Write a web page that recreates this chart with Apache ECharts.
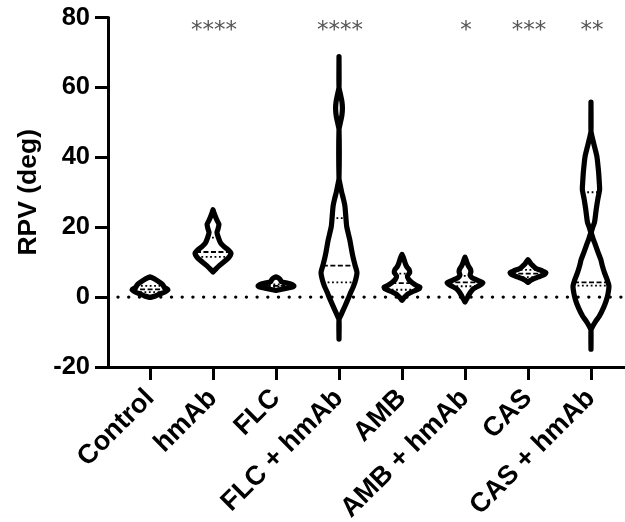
<!DOCTYPE html>
<html>
<head>
<meta charset="utf-8">
<script src="https://cdn.jsdelivr.net/npm/echarts@6/dist/echarts.min.js"></script>
<style>
  html, body { margin: 0; padding: 0; background: #fff; }
  #chart { width: 625px; height: 522px; }
</style>
</head>
<body>
<div id="chart"></div>
<script>
// groups on the x axis
const categories = ["Control", "hmAb", "FLC", "FLC + hmAb", "AMB", "AMB + hmAb", "CAS", "CAS + hmAb"];
const yTicks = [-20, 0, 20, 40, 60, 80];
const sigLabels = ["", "****", "", "****", "", "*", "***", "**"];

// violin outlines: [RPV value, relative density 0..1] (each violin scaled to same max width)
const controlDensity = [[-0.1, 0], [0.3, 0.3], [0.8, 0.5], [1.4, 0.8], [2.1, 1], [2.8, 0.8], [3.6, 0.7], [4.3, 0.52], [4.8, 0.38], [5.3, 0.22], [5.8, 0]];
const hmAbDensity = [[7.2, 0], [8, 0.15], [9, 0.35], [10, 0.58], [11, 0.82], [12, 0.97], [12.6, 1], [13.5, 0.85], [14.5, 0.6], [15.5, 0.42], [17, 0.3], [18.5, 0.22], [19.5, 0.28], [20.8, 0.33], [22, 0.22], [23.2, 0.12], [24.3, 0.04], [25, 0]];
const flcDensity = [[1.9, 0], [2.3, 0.4], [2.8, 0.85], [3.2, 1], [3.7, 0.85], [4.1, 0.55], [4.4, 0.3], [4.9, 0.25], [5.4, 0.15], [5.8, 0]];
const flcHmAbDensity = [[-12, 0], [-6.5, 0], [-5, 0.12], [-2.6, 0.33], [0, 0.55], [1.3, 0.65], [3, 0.8], [5, 0.93], [7, 1], [9, 0.9], [11, 0.8], [13, 0.72], [16.4, 0.6], [20.2, 0.43], [23, 0.38], [26, 0.33], [28, 0.25], [30, 0.15], [32, 0.07], [34, 0], [48, 0], [50, 0.08], [52, 0.16], [54, 0.19], [56, 0.16], [58, 0.08], [60, 0], [68.8, 0]];
const ambDensity = [[-0.9, 0], [0, 0.15], [0.8, 0.3], [1.6, 0.6], [2.4, 0.95], [2.8, 1], [3.3, 0.8], [4.1, 0.57], [5, 0.38], [6, 0.3], [7, 0.43], [7.8, 0.4], [8.6, 0.28], [9.4, 0.2], [10.5, 0.13], [11.4, 0.07], [12.2, 0]];
const ambHmAbDensity = [[-1.4, 0], [-0.5, 0.1], [0.5, 0.2], [1.5, 0.32], [2.5, 0.5], [3.3, 0.8], [4.1, 1], [4.8, 0.7], [5.5, 0.4], [6.3, 0.28], [7.2, 0.33], [8, 0.3], [9, 0.18], [10, 0.1], [10.8, 0.05], [11.4, 0]];
const casDensity = [[4.2, 0], [4.8, 0.15], [5.4, 0.4], [6, 0.7], [6.6, 0.95], [7, 1], [7.5, 0.8], [8.2, 0.45], [8.9, 0.29], [9.6, 0.15], [10.2, 0.08], [10.7, 0]];
const casHmAbDensity = [[-14.9, 0], [-9.5, 0], [-8.5, 0.08], [-7, 0.25], [-5.5, 0.46], [-3, 0.7], [-1, 0.85], [1, 0.95], [3.2, 1], [5, 0.9], [7, 0.75], [9, 0.63], [10.7, 0.55], [13, 0.38], [15, 0.24], [17, 0.1], [18.5, 0.02], [20, 0.1], [21.5, 0.2], [25, 0.29], [28, 0.38], [30.7, 0.48], [33, 0.46], [36, 0.42], [40.2, 0.33], [43, 0.2], [45.5, 0.08], [47.5, 0], [55.8, 0]];

// quartiles per group
const q1 = [1.4, 11.5, 2.9, 4.2, 2.1, 3.1, 5.7, 3.3];
const medians = [2.2, 12.9, 3.2, 9.0, 4.0, 4.2, 6.7, 4.2];
const q3 = [3.2, 17, 3.6, 22.6, 6.7, 6.1, 7.8, 30];

const densities = [controlDensity, hmAbDensity, flcDensity, flcHmAbDensity, ambDensity, ambHmAbDensity, casDensity, casHmAbDensity];

const MAX_HALF = 0.285; // half width of the widest point, in category units
const AXIS_FONT = "'Liberation Sans', Arial, sans-serif";

function densityAt(profile, v) {
  for (let k = 1; k < profile.length; k++) {
    const a = profile[k - 1], b = profile[k];
    if (v >= a[0] && v <= b[0]) {
      const t = (v - a[0]) / (b[0] - a[0] || 1);
      return a[1] + t * (b[1] - a[1]);
    }
  }
  return 0;
}

function renderViolin(params, api) {
  const i = api.value(0);
  const profile = densities[i];
  const left = profile.map(p => api.coord([i - p[1] * MAX_HALF, p[0]]));
  const right = profile.slice().reverse().map(p => api.coord([i + p[1] * MAX_HALF, p[0]]));
  const children = [{
    type: "polygon",
    shape: { points: left.concat(right), smooth: 0.2 },
    style: { fill: "none", stroke: "#000", lineWidth: 5.2, lineJoin: "round" }
  }];
  const qLine = (v, dash, w) => {
    const d = densityAt(profile, v) * MAX_HALF;
    const a = api.coord([i - d, v]);
    const b = api.coord([i + d, v]);
    children.push({
      type: "line",
      shape: { x1: a[0], y1: a[1], x2: b[0], y2: b[1] },
      style: { stroke: "#000", lineWidth: w, lineDash: dash }
    });
  };
  qLine(q1[i], [1.8, 2.6], 1.8);
  qLine(q3[i], [1.8, 2.6], 1.8);
  qLine(medians[i], [5, 2.5], 1.8);
  if (sigLabels[i]) {
    const t = api.coord([i, 76]);
    children.push({
      type: "text",
      x: t[0] + 1, y: t[1],
      style: {
        text: sigLabels[i], fill: "#555", font: "23px 'DejaVu Sans'",
        align: "center", verticalAlign: "middle"
      }
    });
  }
  return { type: "group", children: children };
}

const chart = echarts.init(document.getElementById("chart"), null, { renderer: "canvas" });
chart.setOption({
  animation: false,
  backgroundColor: "#fff",
  grid: { left: 108, right: 0, top: 17.5, bottom: 155, outerBoundsMode: "none", containLabel: false },
  xAxis: {
    type: "value",
    min: -0.667,
    max: 7.54,
    splitLine: { show: false },
    axisLine: { show: true, onZero: false, lineStyle: { color: "#000", width: 3 } },
    axisTick: { show: true, length: 13, lineStyle: { color: "#000", width: 3 }, customValues: categories.map((c, i) => i) },
    axisLabel: {
      customValues: categories.map((c, i) => i),
      formatter: v => categories[Math.round(v)],
      rotate: 45,
      margin: 27,
      color: "#000",
      fontSize: 27,
      fontWeight: "bold",
      fontFamily: AXIS_FONT
    }
  },
  yAxis: {
    type: "value",
    min: yTicks[0],
    max: yTicks[yTicks.length - 1],
    interval: 20,
    name: "RPV (deg)",
    nameLocation: "middle",
    nameGap: 66,
    nameTextStyle: { color: "#000", fontSize: 26.5, fontWeight: "bold", fontFamily: AXIS_FONT },
    splitLine: { show: false },
    axisLine: { show: true, onZero: false, lineStyle: { color: "#000", width: 3 } },
    axisTick: { show: true, length: 13, lineStyle: { color: "#000", width: 3 } },
    axisLabel: { margin: 18, color: "#000", fontSize: 25.5, fontWeight: "bold", fontFamily: AXIS_FONT }
  },
  series: [
    {
      type: "line",
      data: [[-0.508, 0], [7.54, 0]],
      symbol: "none",
      silent: true,
      lineStyle: { color: "#000", width: 3.4, type: [0, 10.7], cap: "round" },
      z: 3
    },
    {
      type: "custom",
      data: categories.map((c, i) => [i, 0]),
      encode: { x: 0, y: 1 },
      renderItem: renderViolin,
      silent: true,
      z: 2
    }
  ]
});
</script>
</body>
</html>
